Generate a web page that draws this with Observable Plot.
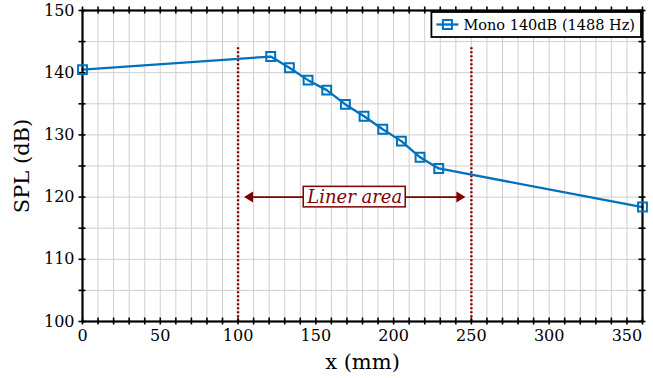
<!DOCTYPE html>
<html><head><meta charset="utf-8">
<script src="https://cdn.jsdelivr.net/npm/d3@7"></script>
<script src="https://cdn.jsdelivr.net/npm/@observablehq/plot@0.6"></script>
<style>html,body{margin:0;padding:0;background:#fff;}</style>
</head><body><div id="chart"></div>
<script>
// ---- data ----
const positions = [0, 121, 133, 145, 157, 169, 181, 193, 205, 217, 229, 360];
const spl = [140.5, 142.6, 140.8, 138.8, 137.2, 134.9, 133.0, 130.9, 129.0, 126.4, 124.6, 118.4];
const seriesName = "Mono 140dB (1488 Hz)";
const xTickLabels = [0, 50, 100, 150, 200, 250, 300, 350];
const xGridTicks = [0,10,20,30,40,50,60,70,80,90,100,110,120,130,140,150,160,170,180,190,200,210,220,230,240,250,260,270,280,290,300,310,320,330,340,350,360];
const yTickLabels = [100, 110, 120, 130, 140, 150];
const yGridTicks = [100, 105, 110, 115, 120, 125, 130, 135, 140, 145, 150];
const xLabel = "x (mm)";
const yLabel = "SPL (dB)";
const linerBounds = [100, 250];
const linerTop = 144;
const linerArrowY = 120;
const linerCenter = 175;
const linerLabel = "Liner area";

const xDomain = [0, 360], yDomain = [100, 150];
const blue = "#0072BD", red = "#7f0000", gridColor = "#cfcfcf";
const data = positions.map((x, i) => ({x, y: spl[i]}));

const headLeft = {draw(c) { c.moveTo(0, 0); c.lineTo(9, -5.5); c.lineTo(9, 5.5); c.closePath(); }};
const headRight = {draw(c) { c.moveTo(0, 0); c.lineTo(-9, -5.5); c.lineTo(-9, 5.5); c.closePath(); }};

const plot = Plot.plot({
  width: 653, height: 378,
  marginLeft: 82, marginRight: 11, marginTop: 10, marginBottom: 57,
  style: {fontFamily: "DejaVu Serif", background: "white", color: "black"},
  x: {domain: xDomain},
  y: {domain: yDomain},
  marks: [
    Plot.gridX(xGridTicks, {stroke: gridColor, strokeOpacity: 1, strokeWidth: 1}),
    Plot.gridY(yGridTicks, {stroke: gridColor, strokeOpacity: 1, strokeWidth: 1}),
    Plot.ruleX(linerBounds, {y1: linerTop, y2: yDomain[0], stroke: red, strokeWidth: 2.4, strokeDasharray: "2 2"}),
    Plot.ruleY([linerArrowY], {x1: linerBounds[0], x2: linerBounds[1], insetLeft: 8, insetRight: 8, stroke: red, strokeWidth: 1.6}),
    Plot.dot([linerBounds[0]], {x: d => d, y: () => linerArrowY, dx: 6, symbol: headLeft, r: 5, fill: red, stroke: "none"}),
    Plot.dot([linerBounds[1]], {x: d => d, y: () => linerArrowY, dx: -6, symbol: headRight, r: 5, fill: red, stroke: "none"}),
    Plot.text([linerLabel], {x: () => linerCenter, y: () => linerArrowY, text: d => d, fontStyle: "italic", fontSize: 18, fill: red}),
    Plot.line(data, {x: "x", y: "y", stroke: blue, strokeWidth: 2.3}),
    Plot.frame({stroke: "black", strokeWidth: 2.2}),
    Plot.ruleX(xGridTicks, {y1: yDomain[0], y2: yDomain[0], insetTop: -3.5, insetBottom: -3.5, stroke: "black", strokeWidth: 1.6}),
    Plot.ruleX(xGridTicks, {y1: yDomain[1], y2: yDomain[1], insetTop: -3.5, insetBottom: -3.5, stroke: "black", strokeWidth: 1.6}),
    Plot.ruleY(yGridTicks, {x1: xDomain[0], x2: xDomain[0], insetLeft: -3.5, insetRight: -3.5, stroke: "black", strokeWidth: 1.6}),
    Plot.ruleY(yGridTicks, {x1: xDomain[1], x2: xDomain[1], insetLeft: -3.5, insetRight: -3.5, stroke: "black", strokeWidth: 1.6}),
    Plot.dot(data, {x: "x", y: "y", symbol: "square", r: 5, stroke: blue, strokeWidth: 2, fill: "none"}),
    Plot.axisX(xTickLabels, {tickSize: 0, tickPadding: 8, fontSize: 16, label: null}),
    Plot.axisY(yTickLabels, {tickSize: 0, tickPadding: 8, fontSize: 16, label: null}),
    Plot.text([xLabel], {frameAnchor: "bottom", dy: 41, fontSize: 21, textAnchor: "middle", lineAnchor: "middle", text: d => d}),
    Plot.text([yLabel], {frameAnchor: "left", dx: -60, rotate: -90, fontSize: 21, textAnchor: "middle", lineAnchor: "middle", text: d => d})
  ]
});
document.getElementById("chart").appendChild(plot);

// ---- box around the "Liner area" label ----
const svg = d3.select(plot);
svg.selectAll("text").filter(function() { return this.textContent === linerLabel; }).each(function() {
  const bb = this.getBBox();
  const r = document.createElementNS("http://www.w3.org/2000/svg", "rect");
  r.setAttribute("x", bb.x - 3);
  r.setAttribute("y", bb.y + 0.5);
  r.setAttribute("width", bb.width + 6);
  r.setAttribute("height", bb.height - 0.5);
  r.setAttribute("fill", "white");
  r.setAttribute("stroke", red);
  r.setAttribute("stroke-width", 1.5);
  if (this.getAttribute("transform")) r.setAttribute("transform", this.getAttribute("transform"));
  this.parentNode.insertBefore(r, this);
});

// ---- legend ----
const sx = plot.scale("x"), sy = plot.scale("y");
const fRight = sx.apply(xDomain[1]), fTop = sy.apply(yDomain[1]);
const lg = svg.append("g").attr("font-family", "DejaVu Serif").attr("text-anchor", "start");
const box = lg.append("rect");
const lt = lg.append("text").attr("font-size", 14.5).attr("text-anchor", "start").attr("fill", "black").text(seriesName);
const tw = lt.node().getComputedTextLength();
const bw = tw + 38, bh = 25;
const bx = fRight - 1 - bw, by = fTop + 2;
box.attr("x", bx).attr("y", by).attr("width", bw).attr("height", bh)
  .attr("fill", "white").attr("stroke", "black").attr("stroke-width", 1.8);
lt.attr("x", bx + 32).attr("y", by + bh / 2 + 5);
lg.append("line").attr("x1", bx + 5).attr("x2", bx + 27).attr("y1", by + bh / 2).attr("y2", by + bh / 2)
  .attr("stroke", blue).attr("stroke-width", 2.3);
lg.append("rect").attr("x", bx + 16 - 4.5).attr("y", by + bh / 2 - 4.5).attr("width", 9).attr("height", 9)
  .attr("fill", "none").attr("stroke", blue).attr("stroke-width", 2);
</script>
</body></html>
